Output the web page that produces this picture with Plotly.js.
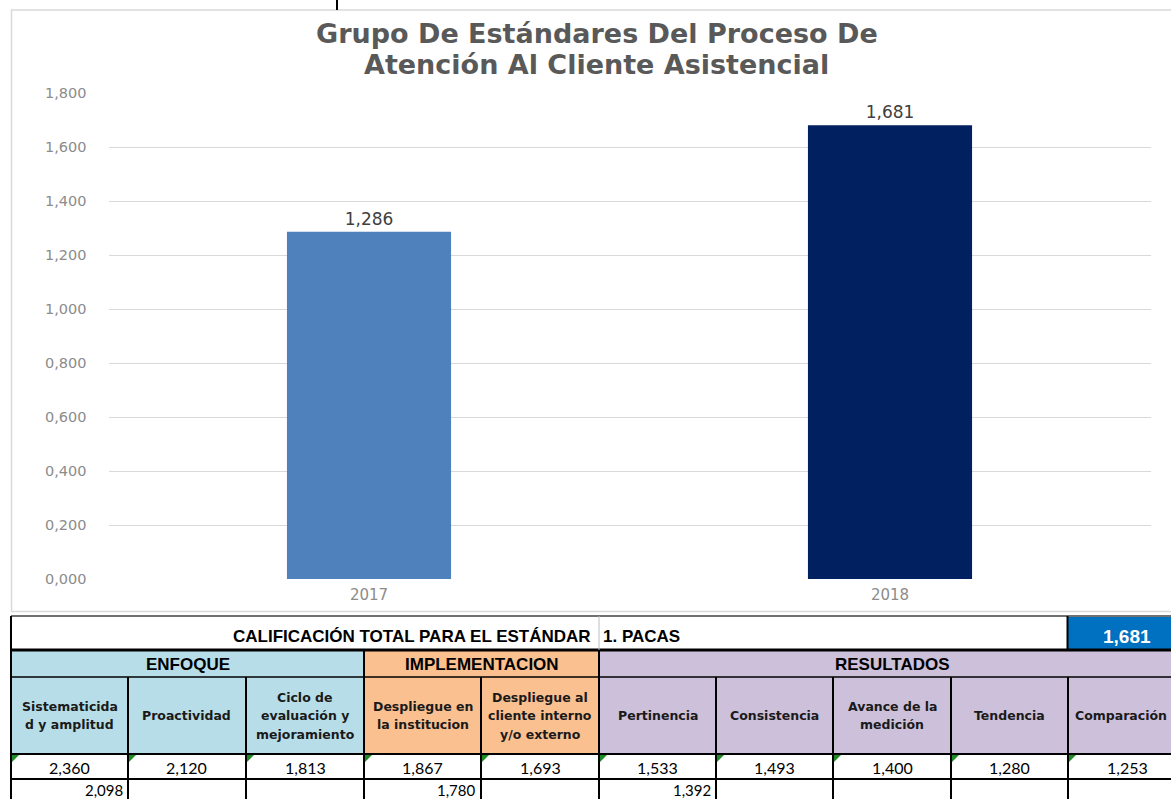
<!DOCTYPE html>
<html>
<head>
<meta charset="utf-8">
<script src="https://cdn.plot.ly/plotly-3.0.1.min.js"></script>
<style>
  html, body { margin: 0; padding: 0; background: #ffffff; overflow: hidden; }
  #chart { width: 1171px; height: 799px; }
</style>
</head>
<body>
<div id="chart"></div>
<script>
// ---------------- DATA ----------------
const years = ['2017', '2018'];
const yearScores = [1.286, 1.681];
const barColors = ['#4f81bd', '#002060'];

const titleLines = ['Grupo De Estándares Del Proceso De', 'Atención Al Cliente Asistencial'];

const totalLabel = 'CALIFICACIÓN TOTAL PARA EL ESTÁNDAR';
const standardName = '1. PACAS';
const standardTotal = [1.681];

const groupNames = ['ENFOQUE', 'IMPLEMENTACION', 'RESULTADOS'];
const groupSizes = [3, 2, 5];
const groupColors = ['#b7dee8', '#fac090', '#ccc0da'];
const groupScores = [2.098, 1.780, 1.392];

const criteria = [
  'Sistematicida|d y amplitud',
  'Proactividad',
  'Ciclo de|evaluación y|mejoramiento',
  'Despliegue en|la institucion',
  'Despliegue al|cliente interno|y/o externo',
  'Pertinencia',
  'Consistencia',
  'Avance de la|medición',
  'Tendencia',
  'Comparación'
];
const criteriaScores = [2.360, 2.120, 1.813, 1.867, 1.693, 1.533, 1.493, 1.400, 1.280, 1.253];

// ---------------- LAYOUT HELPERS ----------------
const W = 1171, H = 799;
const X = p => p / W;
const Y = p => 1 - p / H;
const fmt = v => v.toFixed(3).replace('.', ',');

const colEdges = [11, 128, 246, 364, 481, 599, 716, 833, 951, 1068, 1185];
const rowTop = 616, rowTopEnd = 650, grpTop = 651, grpEnd = 677, hdrEnd = 754, dataEnd = 779;

const narrow = 'Liberation Sans Narrow, Arial Narrow, Liberation Sans, sans-serif';
const wide = 'DejaVu Sans, Verdana, sans-serif';
const dataFont = 'Lato, Carlito, Liberation Sans, sans-serif';

const shapes = [];
const annotations = [];

function line(x0, y0, x1, y1, color, width) {
  shapes.push({type: 'line', xref: 'paper', yref: 'paper', x0: X(x0), y0: Y(y0), x1: X(x1), y1: Y(y1),
    line: {color: color, width: width}});
}
function rect(x0, y0, x1, y1, fill) {
  shapes.push({type: 'rect', xref: 'paper', yref: 'paper', x0: X(x0), y0: Y(y0), x1: X(x1), y1: Y(y1),
    fillcolor: fill, line: {width: 0}, layer: 'below'});
}
function label(text, x, y, size, family, color, xanchor, weight) {
  annotations.push({text: text, x: X(x), y: Y(y), xref: 'paper', yref: 'paper', showarrow: false,
    xanchor: xanchor || 'center', yanchor: 'middle', borderpad: 0,
    font: {size: size, family: family, color: color, weight: weight || 'normal'}});
}

// chart frame
shapes.push({type: 'rect', xref: 'paper', yref: 'paper', x0: X(11.5), y0: Y(10), x1: X(1180), y1: Y(611.5),
  line: {color: '#d9d9d9', width: 1.5}, fillcolor: 'rgba(0,0,0,0)', layer: 'below'});
line(337, 0, 337, 10, '#000000', 2);

// title
label(titleLines[0], 597, 34, 27, wide, '#595959', 'center', 'bold');
label(titleLines[1], 596, 65, 27, wide, '#595959', 'center', 'bold');

// ---------------- TABLE ----------------
// top row
rect(1068, 617, 1185, 649, '#0070c0');
label(totalLabel, 592, 636, 17, narrow, '#000000', 'right', 'bold');
label(standardName, 602, 636, 17, narrow, '#000000', 'left', 'bold');
label(fmt(standardTotal[0]), 1127, 636, 19, narrow, '#ffffff', 'center', 'bold');

// group + header rows
let c = 0;
const colGroup = [];
groupNames.forEach((g, gi) => {
  const start = c, end = c + groupSizes[gi];
  rect(colEdges[start], grpTop, colEdges[end], grpEnd, groupColors[gi]);
  label(g, (colEdges[start] + colEdges[end]) / 2, 664, 17, narrow, '#000000', 'center', 'bold');
  for (let k = start; k < end; k++) colGroup.push(gi);
  // group score under first column of the group, right aligned
  label(fmt(groupScores[gi]), colEdges[start + 1] - 4, 789.5, 15, dataFont, '#000000', 'right');
  c = end;
});

criteria.forEach((txt, i) => {
  const x0 = colEdges[i], x1 = colEdges[i + 1];
  // keep the last (partly visible) column's text inside the window
  const cx = Math.min((x0 + x1) / 2, 1121);
  rect(x0, grpEnd, x1, hdrEnd, groupColors[colGroup[i]]);
  const lines = txt.split('|');
  const n = lines.length;
  lines.forEach((ln, li) => {
    label(ln, cx, 715.5 + (li - (n - 1) / 2) * 18.5, 12.5, wide, '#1a1a1a', 'center', 'bold');
  });
  label(fmt(criteriaScores[i]), (x0 + x1) / 2 > 1121 ? 1127 : (x0 + x1) / 2, 767, 16, dataFont, '#000000', 'center');
  // green indicator triangle
  shapes.push({type: 'path', xref: 'paper', yref: 'paper',
    path: `M ${X(x0 + 1)} ${Y(755)} L ${X(x0 + 8)} ${Y(755)} L ${X(x0 + 1)} ${Y(762)} Z`,
    fillcolor: '#1f8b24', line: {width: 0}});
});

// grid lines
line(11, rowTop, 1185, rowTop, '#404040', 1.5);
line(11, rowTopEnd, 1185, rowTopEnd, '#000000', 3);
line(11, grpEnd, 1185, grpEnd, '#000000', 1.5);
line(11, hdrEnd, 1185, hdrEnd, '#000000', 2);
line(11, dataEnd, 1185, dataEnd, '#000000', 2);
line(11, rowTop, 11, 800, '#000000', 2);
line(599, rowTop, 599, rowTopEnd, '#bfbfbf', 1);
line(1067.5, rowTop, 1067.5, rowTopEnd, '#000000', 2);
[364, 599].forEach(x => line(x, rowTopEnd, x, 800, '#000000', 2));
colEdges.slice(1, -1).forEach(x => { if (x !== 364 && x !== 599) line(x, grpEnd, x, 800, '#000000', 2); });

// ---------------- CHART ----------------
const trace = {
  type: 'bar',
  x: years,
  y: yearScores,
  marker: {color: barColors, line: {width: 0}},
  texttemplate: '%{y:.3f}',
  textposition: 'outside',
  textfont: {family: wide, size: 17, color: '#404040'},
  cliponaxis: false,
  hoverinfo: 'skip'
};

const layout = {
  width: W, height: H,
  margin: {l: 0, r: 0, t: 0, b: 0, pad: 0},
  paper_bgcolor: '#ffffff',
  plot_bgcolor: '#ffffff',
  separators: ',.',
  showlegend: false,
  bargap: 0.685,
  xaxis: {
    domain: [X(108.5), X(1150.5)],
    type: 'category',
    range: [-0.5, 1.5],
    showgrid: false, showline: false, zeroline: false, ticks: '',
    tickfont: {family: wide, size: 15, color: '#8c8c8c'},
    ticklabelstandoff: 5
  },
  yaxis: {
    domain: [Y(579), Y(93)],
    range: [0, 1.8],
    dtick: 0.2, tick0: 0,
    tickformat: '.3f',
    showgrid: true, gridcolor: '#d9d9d9', gridwidth: 1,
    zeroline: false, showline: false, ticks: '',
    tickfont: {family: wide, size: 14.5, color: '#8c8c8c'},
    ticklabelstandoff: 21
  },
  shapes: shapes,
  annotations: annotations
};

Plotly.newPlot('chart', [trace], layout, {displayModeBar: false, staticPlot: true});
</script>
</body>
</html>
